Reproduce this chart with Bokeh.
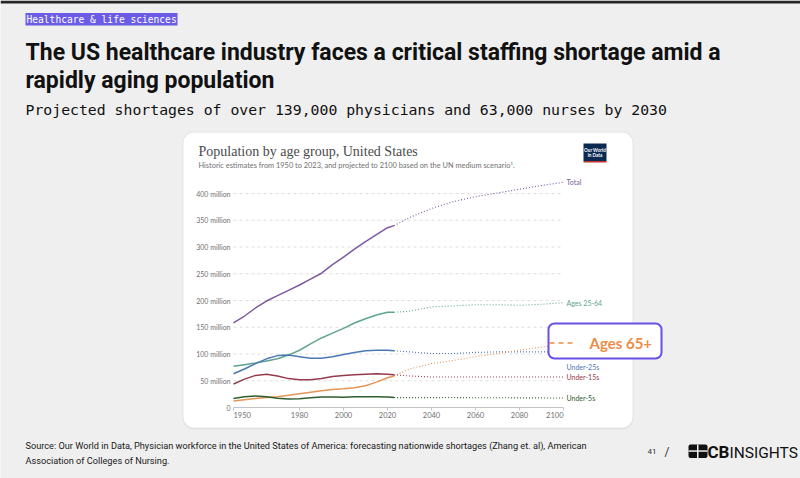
from bokeh.plotting import figure
from bokeh.models import Range1d, Label, BoxAnnotation, Arrow
from bokeh.core.properties import value
from bokeh.embed import file_html
from bokeh.resources import INLINE

# ---------------- data (millions of people) ----------------
YEARS_HIST = [1950, 1955, 1960, 1965, 1970, 1975, 1980, 1985, 1990, 1995, 2000, 2005, 2010, 2015, 2020, 2023]
YEARS_PROJ = [2023, 2030, 2040, 2050, 2060, 2070, 2080, 2090, 2100]

TOTAL_HIST = [158, 171, 186, 199, 209, 219, 229, 240, 251, 267, 281, 296, 310, 323, 336, 340]
TOTAL_PROJ = [340, 355, 372, 385, 394, 401, 408, 415, 421]
AGE_25_64_HIST = [77, 80, 83, 87, 91, 98, 107, 119, 130, 139, 148, 158, 166, 173, 178, 178]
AGE_25_64_PROJ = [178, 180, 188, 190, 192, 192, 191, 193, 196]
UNDER_25_HIST = [63, 72, 82, 91, 97, 98, 95, 92, 92, 95, 99, 103, 106, 107, 107, 106]
UNDER_25_PROJ = [106, 104, 101, 101, 103, 104, 104, 104, 104]
AGE_65_HIST = [12, 14.5, 16.7, 18.5, 20.1, 22.7, 25.7, 28.5, 31.3, 33.5, 35, 37, 40.6, 47.5, 55.7, 59]
AGE_65_PROJ = [59, 72, 82, 88, 95, 101, 107, 113, 118]
UNDER_15_HIST = [44, 53, 60, 62, 59, 54, 52, 52, 54, 58, 60, 61, 62, 63, 62, 61]
UNDER_15_PROJ = [61, 59, 57, 57, 57, 57, 57, 57, 57]
UNDER_5_HIST = [17, 20, 21.5, 20, 17.5, 16, 16.2, 18, 19.5, 19.5, 19, 20, 20.2, 20, 19.5, 18.5]
UNDER_5_PROJ = [18.5, 18.5, 18.5, 18.6, 18.3, 18.2, 18, 17.9, 17.8]

SERIES_NAMES = ["Total", "Ages 25-64", "Under-25s", "Ages 65+", "Under-15s", "Under-5s"]
SERIES_HIST = [TOTAL_HIST, AGE_25_64_HIST, UNDER_25_HIST, AGE_65_HIST, UNDER_15_HIST, UNDER_5_HIST]
SERIES_PROJ = [TOTAL_PROJ, AGE_25_64_PROJ, UNDER_25_PROJ, AGE_65_PROJ, UNDER_15_PROJ, UNDER_5_PROJ]
SERIES_COLORS = ["#7B5A9E", "#5FA48E", "#4A78B4", "#E3955A", "#943C4B", "#2F5E2C"]

Y_TICKS = [0, 50, 100, 150, 200, 250, 300, 350, 400]
Y_TICK_LABELS = ["0", "50 million", "100 million", "150 million", "200 million",
                 "250 million", "300 million", "350 million", "400 million"]
X_TICKS = [1950, 1980, 2000, 2020, 2040, 2060, 2080, 2100]
X_TICK_LABELS = [str(t) for t in X_TICKS]

# ---------------- layout (slide pixels) ----------------
W, H = 800, 478
X_FIRST_PX, X_LAST_PX = 233, 563      # pixel columns of 1950 and 2100
Y_ZERO_PX, Y_400_PX = 407, 193        # pixel rows of 0 and 400 million
PX_PER_YEAR = (X_LAST_PX - X_FIRST_PX) / (X_TICKS[-1] - X_TICKS[0])
PX_PER_M = (Y_ZERO_PX - Y_400_PX) / Y_TICKS[-1]

BG = "#efefef"
p = figure(width=W, height=H, x_range=Range1d(0, W), y_range=Range1d(H, 0),
           x_axis_type=None, y_axis_type=None,
           min_border_left=0, min_border_right=0, min_border_top=0, min_border_bottom=0,
           output_backend="svg", toolbar_location=None,
           border_fill_color=BG, background_fill_color=BG, outline_line_color=None)
p.grid.visible = False
# chart scales: years across, millions up, mapped onto the slide
p.extra_x_ranges = {"yr": Range1d(X_TICKS[0] - X_FIRST_PX / PX_PER_YEAR,
                                  X_TICKS[0] + (W - X_FIRST_PX) / PX_PER_YEAR)}
p.extra_y_ranges = {"pop": Range1d((Y_ZERO_PX - H) / PX_PER_M, Y_ZERO_PX / PX_PER_M)}
C = dict(x_range_name="yr", y_range_name="pop")

# half of (ascent - descent) per font: distance from baseline up to the em-box middle
MID = {"Lato": 0.387, "Roboto": 0.342, "DejaVu Sans Mono": 0.346, "Liberation Serif": 0.338}


def box(l, t, r, b, fill, line=None, lw=0, radius=0, level="annotation", alpha=1.0):
    p.add_layout(BoxAnnotation(left=l, right=r, top=t, bottom=b, level=level,
                               fill_color=fill, fill_alpha=alpha, line_color=line, line_alpha=1,
                               line_width=lw, border_radius=int(radius)))


def lab(x, baseline_y, text, size, color, font="Lato", style="normal", align="left"):
    p.add_layout(Label(x=x, y=baseline_y - MID[font] * size, text=text,
                       text_font=font, text_font_size=f"{size}px", text_color=color,
                       text_font_style=style, text_align=align, text_baseline="middle"))


# ---------------- card ----------------
CL, CT, CR, CB = 183, 132, 632, 427
box(CL - 1, CT - 1, CR + 1, CB + 2, "#e4e4e4", radius=11, level="underlay")
box(CL, CT, CR, CB, "white", radius=10, level="underlay")

# ---------------- chart guides ----------------
n = len(Y_TICKS)
p.segment(x0=[X_TICKS[0]] * (n - 1), x1=[X_TICKS[-1]] * (n - 1), y0=Y_TICKS[1:], y1=Y_TICKS[1:],
          line_color="#dedede", line_width=1, line_dash="3 3", **C)
p.segment(x0=[X_TICKS[0]], x1=[X_TICKS[-1]], y0=[0], y1=[0], line_color="#c4c4c4", line_width=1, **C)
TICK_M = 3 / PX_PER_M
p.segment(x0=X_TICKS, x1=X_TICKS, y0=[0] * len(X_TICKS), y1=[-TICK_M] * len(X_TICKS),
          line_color="#c4c4c4", line_width=1, **C)

AX_FONT = dict(text_font=value("Lato"), text_color="#707070")
p.text(x=[X_TICKS[0]] * n, y=Y_TICKS, text=Y_TICK_LABELS, x_offset=-3, text_align="right",
       text_baseline="middle", text_font_size="7px", **AX_FONT, **C)
p.text(x=X_TICKS[1:-1], y=[0] * (len(X_TICKS) - 2), text=X_TICK_LABELS[1:-1], y_offset=7,
       text_align="center", text_baseline="middle", text_font_size="7.5px", **AX_FONT, **C)
p.text(x=[X_TICKS[0]], y=[0], text=[X_TICK_LABELS[0]], y_offset=7, text_align="left",
       text_baseline="middle", text_font_size="7.5px", **AX_FONT, **C)
p.text(x=[X_TICKS[-1]], y=[0], text=[X_TICK_LABELS[-1]], y_offset=7, text_align="right",
       text_baseline="middle", text_font_size="7.5px", **AX_FONT, **C)

# ---------------- series ----------------
for name, hist, proj, col in zip(SERIES_NAMES, SERIES_HIST, SERIES_PROJ, SERIES_COLORS):
    p.line(YEARS_PROJ, proj, line_color=col, line_width=1.1, line_dash="1 2", **C)
    p.line(YEARS_HIST, hist, line_color=col, line_width=1.5, **C)
    if name != "Ages 65+":
        p.text(x=[YEARS_PROJ[-1]], y=[proj[-1]], text=[name], x_offset=3,
               y_offset=15 if name == "Under-25s" else 0,
               text_font=value("Lato"), text_font_size="7px", text_color=col,
               text_baseline="middle", **C)

# ---------------- slide header ----------------
box(0, 0, W, 3, "#262626")
box(25, 12.5, 177, 25, "#6B5CE6")
lab(26, 22, "Healthcare & life sciences", 9.6, "white", font="DejaVu Sans Mono")
lab(25, 60, "The US healthcare industry faces a critical staffing shortage amid a", 23, "#111111",
    font="Roboto", style="bold")
lab(25, 88, "rapidly aging population", 23, "#111111", font="Roboto", style="bold")
lab(25, 114, "Projected shortages of over 139,000 physicians and 63,000 nurses by 2030", 14.8,
    "#111111", font="DejaVu Sans Mono")

# ---------------- card header ----------------
lab(198, 155.5, "Population by age group, United States", 14, "#4a4a4a", font="Liberation Serif")
lab(198, 167.5, "Historic estimates from 1950 to 2023, and projected to 2100 based on the UN medium scenario¹.",
    7.4, "#707070")
box(583, 143, 606, 160.5, "#0B2A52")
box(583, 160.5, 606, 162, "#C8302A")
lab(594.5, 151, "Our World", 4.6, "white", align="center", style="bold")
lab(594.5, 156.5, "in Data", 4.6, "white", align="center", style="bold")

# ---------------- callout ----------------
box(548, 323, 661, 358, "white", line="#6A4FE6", lw=2, radius=6)
p.add_layout(Arrow(end=None, x_start=549, y_start=342.5, x_end=576, y_end=342.5,
                   line_color="#EE8B45", line_width=1.5, line_dash="5 4"))
lab(589, 348.5, "Ages 65+", 15, "#EE8B45", style="bold")

# ---------------- footer ----------------
lab(25, 448, "Source: Our World in Data, Physician workforce in the United States of America: forecasting "
    "nationwide shortages (Zhang et. al), American", 9.2, "#1a1a1a", font="Roboto")
lab(25, 463, "Association of Colleges of Nursing.", 9.2, "#1a1a1a", font="Roboto")
lab(647, 454, "41", 8, "#333333", font="Roboto")
lab(664, 456, "/", 12, "#333333", font="Roboto")
box(688, 444, 707, 457.5, "#111111", radius=2)
box(696.5, 444, 698, 457.5, BG)
box(688, 449.8, 707, 451.3, BG)
lab(707, 457.5, "CB", 17, "#111111", font="Roboto", style="bold")
lab(729, 457.5, "INSIGHTS", 15.5, "#111111", font="Roboto")

open("out.html", "w").write(file_html(p, INLINE))
